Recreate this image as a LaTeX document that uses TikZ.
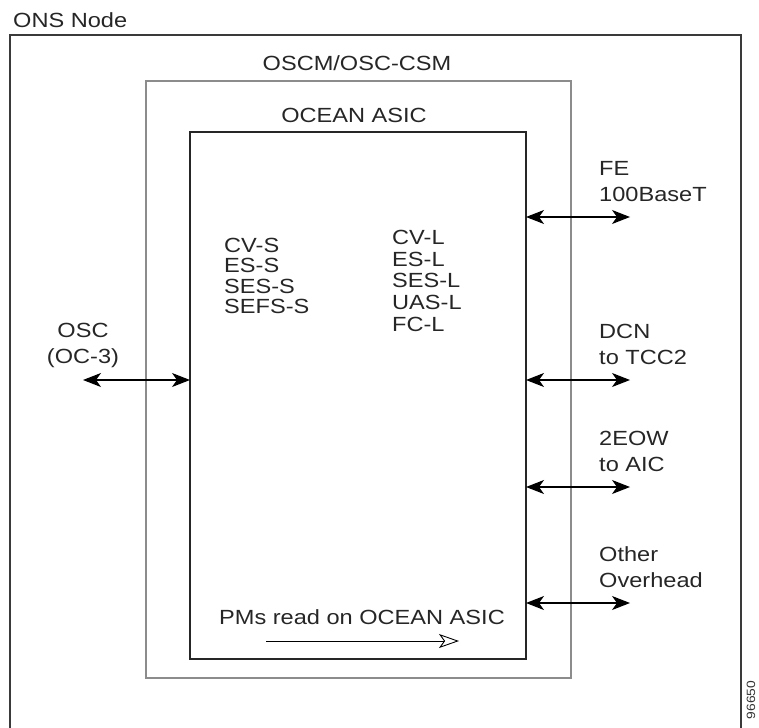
\documentclass[tikz,border=0pt]{standalone}
\usepackage{fontspec}
\setmainfont{Liberation Sans}[FakeStretch=1.15]
\usetikzlibrary{arrows.meta, calc}
\definecolor{Frame}{HTML}{3A3A3A}
\definecolor{Card}{HTML}{8C8C8C}
\definecolor{Chip}{HTML}{262626}
\tikzset{
    lbl/.style={font=\fontsize{20.5}{26}\selectfont, inner sep=0pt, align=left, text=black!85},
    pmlist/.style={lbl, font=\fontsize{20.5}{20.3}\selectfont},
    port/.style={black, line width=1.2pt,
        {Stealth[length=18pt, width=14pt, inset=5pt]}-{Stealth[length=18pt, width=14pt, inset=5pt]}},
}
\NewDocumentCommand{\PortRight}{m m m}{
    \coordinate (#1-in) at (526,#2);
    \coordinate (#1-out) at (630,#2);
    \draw[port] (#1-in) -- (#1-out);
    \node[lbl, anchor=south west] (#1-label) at (599,#2-15.5) {#3};
}
\newcommand{\Layout}{
\useasboundingbox (0,0) rectangle (759,727);

% ONS node (open at the bottom)
\coordinate (ons-sw) at (10,745);
\coordinate (ons-nw) at (10,35);
\coordinate (ons-ne) at (741,35);
\coordinate (ons-se) at (741,745);

% OSCM card
\coordinate (card-nw) at (146,81);
\coordinate (card-se) at (571,678);

% OCEAN ASIC
\coordinate (asic-nw) at (190,132);
\coordinate (asic-se) at (526,659);
\coordinate (asic-west) at (190,380);
}

\begin{document}
\begin{tikzpicture}[x=1pt, y=-1pt]
\Layout
\draw[Frame, line width=1.3pt] (ons-sw) -- (ons-nw) -- (ons-ne) -- (ons-se);
\draw[Card, line width=1.5pt] (card-nw) rectangle (card-se);
\draw[Chip, line width=1.3pt] (asic-nw) rectangle (asic-se);

\node[lbl, anchor=west] (ons-title) at (13,20) {ONS Node};
\node[lbl] (card-title) at (357,63) {OSCM/OSC-CSM};
\node[lbl] (asic-title) at (354,115) {OCEAN ASIC};

\node[pmlist, anchor=north west] (section-pms) at (224,238) {CV-S\\ES-S\\SES-S\\SEFS-S};
\node[pmlist, font=\fontsize{20.5}{21.7}\selectfont, anchor=north west] (line-pms) at (392,230) {CV-L\\ES-L\\SES-L\\UAS-L\\FC-L};

% OSC side
\coordinate (osc-out) at (83,380);
\draw[port] (osc-out) -- (asic-west);
\node[lbl, align=center, anchor=north] (osc-label) at (83,322.5) {OSC\\(OC-3)};

% overhead ports
\PortRight{fe}{217}{FE\\100BaseT}
\PortRight{dcn}{380}{DCN\\to TCC2}
\PortRight{eow}{487}{2EOW\\to AIC}
\PortRight{ovh}{603}{Other\\Overhead}

% PM read direction
\node[lbl, anchor=east] (pm-note) at (505,617) {PMs read on OCEAN ASIC};
\coordinate (read-from) at (266,641);
\coordinate (read-to) at (459,641);
\draw[black, line width=0.9pt, -{Stealth[open, length=20pt, width=14pt, inset=5pt]}] (read-from) -- (read-to);

\node[font=\fontsize{12}{12}\selectfont, rotate=90, inner sep=0pt, text=black!80] (fig-id) at (751,700) {96650};
\end{tikzpicture}
\end{document}
